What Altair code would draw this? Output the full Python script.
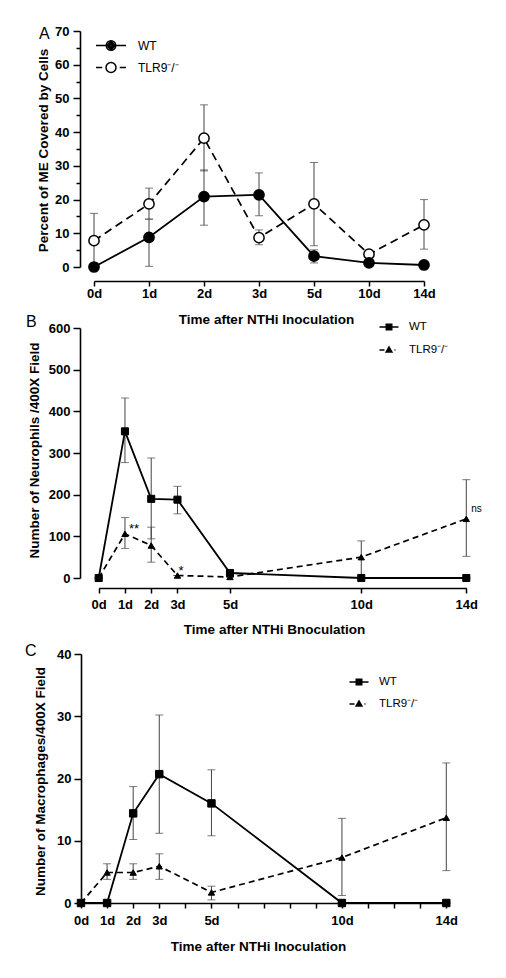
import altair as alt
import pandas as pd

FONT = "Liberation Sans"

# ---------------- data ----------------
day_labels = ["0d", "1d", "2d", "3d", "5d", "10d", "14d"]
day_nums = [0, 1, 2, 3, 5, 10, 14]
series_names = ["WT", "TLR9⁻/⁻"]

# Panel A: percent of ME covered by cells
a_wt_mean = [0, 8.8, 20.9, 21.4, 3.2, 1.2, 0.6]
a_wt_lo = [0, 0.2, 12.4, 15.2, 1.2, 1.2, 0.6]
a_wt_hi = [0, 14.2, 28.8, 27.9, 5.1, 1.2, 0.6]
a_ko_mean = [7.8, 18.7, 38.2, 8.7, 18.7, 3.8, 12.5]
a_ko_lo = [0, 14.2, 28.5, 6.6, 6.3, 3.8, 5.3]
a_ko_hi = [15.9, 23.4, 48.1, 11.0, 31.0, 3.8, 20.0]

# Panel B: neutrophils / 400X field
b_wt_mean = [0, 352, 190, 188, 12, 0, 0]
b_wt_lo = [0, 277, 94, 154, 12, 0, 0]
b_wt_hi = [0, 432, 288, 220, 12, 0, 0]
b_ko_mean = [0, 106, 78, 6, 2.5, 50, 142]
b_ko_lo = [0, 71, 38, 6, 2.5, 0, 52]
b_ko_hi = [0, 145, 122, 6, 2.5, 89, 236]

b_note_day = [1, 3, 14]
b_note_value = [106, 6, 142]
b_note_text = ["**", "*", "ns"]

# Panel C: macrophages / 400X field
c_wt_mean = [0, 0, 14.4, 20.7, 16.0, 0, 0]
c_wt_lo = [0, 0, 10.2, 11.2, 10.8, 0, 0]
c_wt_hi = [0, 0, 18.7, 30.2, 21.4, 0, 0]
c_ko_mean = [0, 4.9, 4.9, 5.9, 1.7, 7.3, 13.7]
c_ko_lo = [0, 3.8, 3.8, 3.8, 0.5, 1.2, 5.2]
c_ko_hi = [0, 6.3, 6.3, 7.9, 2.7, 13.6, 22.5]


def long_df(wm, wl, wh, km, kl, kh):
    rows = []
    for s, (m, lo, hi) in zip(series_names, [(wm, wl, wh), (km, kl, kh)]):
        for i in range(len(day_nums)):
            rows.append(dict(label=day_labels[i], day=day_nums[i], series=s,
                             mean=m[i], lo=lo[i], hi=hi[i]))
    return pd.DataFrame(rows)


dfA = long_df(a_wt_mean, a_wt_lo, a_wt_hi, a_ko_mean, a_ko_lo, a_ko_hi)
dfB = long_df(b_wt_mean, b_wt_lo, b_wt_hi, b_ko_mean, b_ko_lo, b_ko_hi)
dfC = long_df(c_wt_mean, c_wt_lo, c_wt_hi, c_ko_mean, c_ko_lo, c_ko_hi)
notesB = pd.DataFrame(dict(day=b_note_day, value=b_note_value, text=b_note_text))

WT = series_names[0]
KO = series_names[1]
ERR_COLOR = "#444444"


# ---------- legend glyphs (unit space, scaled by sqrt(size)/2 = 5 px) ----------
def circ(r):
    return f"M{-r},0A{r},{r} 0 1,0 {r},0A{r},{r} 0 1,0 {-r},0Z"


def sq(h):
    return f"M{-h},{-h}H{h}V{h}H{-h}Z"


def tri(k):
    c = 0.08
    pts = [(-0.58, 0.42), (0, -0.6), (0.58, 0.42)]
    p = [(k * x, c + k * (y - c)) for x, y in pts]
    return "M{:.3f},{:.3f}L{:.3f},{:.3f}L{:.3f},{:.3f}Z".format(*p[0], *p[1], *p[2])


PATH_A_WT = "M-3,0H-1M1,0H3" + "".join(circ(r) for r in (0.95, 0.65, 0.35, 0.08))
PATH_A_KO = "M-3,0H-1.75M1.75,0H3" + circ(1.0)
PATH_SQ_WT = "M-1.9,0H1.9" + "".join(sq(h) for h in (0.55, 0.4, 0.25, 0.1))
PATH_TRI_KO = "M-1.9,0H-0.9M1.1,0H1.3" + "".join(tri(k) for k in (1.0, 0.55, 0.15))


def legend(x, y, label_offset, row_padding, font_size):
    return alt.Legend(title=None, orient="none", legendX=x, legendY=y,
                      padding=0, labelOffset=label_offset, rowPadding=row_padding,
                      labelFont=FONT, labelFontSize=font_size, labelFontWeight="normal",
                      labelColor="black", symbolSize=100, symbolStrokeWidth=1.5,
                      symbolStrokeColor="black", symbolFillColor="transparent",
                      direction="vertical")


def build_panel(df, X, y_axis, y_scale, width, height, wt_point, ko_point,
                paths, leg, title, dash, extra=None):
    def Y(field):
        return alt.Y(f"{field}:Q", scale=y_scale, axis=y_axis)

    base = alt.Chart(df)
    wt = base.transform_filter(alt.datum.series == WT)
    ko = base.transform_filter(alt.datum.series == KO)
    order = alt.Order("day:Q")
    layers = []
    for part in (wt, ko):
        layers.append(part.mark_rule(color=ERR_COLOR, strokeWidth=1).encode(
            x=X, y=Y("lo"), y2="hi:Q"))
        for f in ("lo", "hi"):
            layers.append(part.mark_tick(orient="horizontal", size=8, thickness=1,
                                         color=ERR_COLOR).encode(x=X, y=Y(f)))
    layers.append(ko.mark_line(color="black", strokeWidth=1.7,
                               strokeDash=dash).encode(x=X, y=Y("mean"), order=order))
    layers.append(wt.mark_line(color="black", strokeWidth=1.8).encode(
        x=X, y=Y("mean"), order=order))
    layers.append(ko.mark_point(**ko_point).encode(x=X, y=Y("mean")))
    layers.append(wt.mark_point(**wt_point).encode(x=X, y=Y("mean")))
    if extra:
        layers.extend(extra)
    # legend-only layer (draws no marks, only feeds the legend)
    layers.append(base.transform_filter("false").mark_point(
        filled=False, color="black", strokeWidth=1.5, size=100, opacity=1).encode(
        x=X, y=Y("mean"),
        shape=alt.Shape("series:N", scale=alt.Scale(domain=series_names, range=paths),
                        legend=leg),
    ))
    return alt.layer(*layers).properties(width=width, height=height, title=title)


def letter(text, dx, dy):
    return alt.TitleParams(text=text, anchor="start", frame="group", orient="top",
                           baseline="alphabetic", offset=0, dx=dx, dy=dy,
                           font=FONT, fontSize=16, fontWeight="normal", color="black")


def y_title_pos(x, y):
    return dict(titleX=x, titleY=y, titleAngle=-90, titleAlign="center",
                titleBaseline="middle")


def x_title_pos(x, y):
    return dict(titleX=x, titleY=y, titleAlign="center", titleBaseline="middle")


# ---------- Panel A ----------
XA = alt.X("label:O", sort=day_labels, scale=alt.Scale(type="point", padding=0),
           axis=alt.Axis(title="Time after NTHi Inoculation", labelAngle=0, offset=14,
                         tickSize=5, labelPadding=1, **x_title_pos(172, 38)))
axisA_y = alt.Axis(title="Percent of ME Covered by Cells",
                   values=list(range(0, 71, 5)),
                   labelExpr="datum.value % 10 === 0 ? datum.label : ''",
                   tickSize={"condition": {"test": "datum.value % 10 === 0", "value": 7},
                             "value": 4},
                   offset=14, labelPadding=4, **y_title_pos(-37, 119))
chartA = build_panel(
    dfA, XA, axisA_y, alt.Scale(domain=[0, 70], nice=False), 330, 236,
    dict(shape="circle", filled=True, fill="black", stroke="black", strokeWidth=1.5,
         size=105, opacity=1),
    dict(shape="circle", filled=True, fill="white", stroke="black", strokeWidth=1.5,
         size=105, opacity=1),
    [PATH_A_WT, PATH_A_KO], legend(11, 8.5, 21, 6, 12), letter("A", -55, 30), [8, 5])

# ---------- Panel B ----------
XB = alt.X("day:Q", scale=alt.Scale(domain=[0, 14], range=[4.7, 372.3], nice=False,
                                    zero=False),
           axis=alt.Axis(title="Time after NTHi Bnoculation", values=day_nums,
                         labelExpr="datum.value + 'd'", offset=10, tickSize=5,
                         labelPadding=5, labelFlush=False, labelOverlap=False,
                         **x_title_pos(180, 41)))
axisB_y = alt.Axis(title="Number of Neurophils /400X Field", values=list(range(0, 601, 100)),
                   tickSize=7, offset=14, labelPadding=3, **y_title_pos(-46, 122))
noteB = [
    alt.Chart(notesB).transform_filter(alt.datum.text == "**").mark_text(
        align="left", baseline="alphabetic", dx=4, dy=-1, font=FONT, fontSize=13,
        color="black").encode(x=XB, y="value:Q", text="text:N"),
    alt.Chart(notesB).transform_filter(alt.datum.text == "*").mark_text(
        align="left", baseline="alphabetic", dx=1, dy=-1, font=FONT, fontSize=13,
        color="black").encode(x=XB, y="value:Q", text="text:N"),
    alt.Chart(notesB).transform_filter(alt.datum.text == "ns").mark_text(
        align="left", baseline="alphabetic", dx=5, dy=-7, font=FONT, fontSize=10,
        color="black").encode(x=XB, y="value:Q", text="text:N"),
]
chartB = build_panel(
    dfB, XB, axisB_y, alt.Scale(domain=[0, 600], nice=False), 372, 250,
    dict(shape="square", filled=True, fill="black", stroke="black", strokeWidth=1,
         size=50, opacity=1),
    dict(shape="triangle-up", filled=True, fill="black", stroke="black", strokeWidth=1,
         size=40, opacity=1),
    [PATH_SQ_WT, PATH_TRI_KO], legend(289, -7, 14, 11, 11.5), letter("B", -68, 22),
    [6, 4], noteB)

# ---------- Panel C ----------
XC = alt.X("day:Q", scale=alt.Scale(domain=[0, 14], range=[-13, 352.3], nice=False,
                                    zero=False),
           axis=alt.Axis(title="Time after NTHi Inoculation", values=list(range(0, 15)),
                         labelExpr="indexof([0,1,2,3,5,10,14], datum.value) >= 0 ? datum.value + 'd' : ''",
                         offset=0, tickSize=5, labelPadding=6,
                         labelFlush=False, labelOverlap=False, **x_title_pos(164, 43)))
axisC_y = alt.Axis(title="Number of Macrophages/400X Field", values=list(range(0, 41, 10)),
                   tickSize=7, offset=13, labelPadding=3, **y_title_pos(-41, 127))
chartC = build_panel(
    dfC, XC, axisC_y, alt.Scale(domain=[0, 40], nice=False), 352, 249,
    dict(shape="square", filled=True, fill="black", stroke="black", strokeWidth=1,
         size=55, opacity=1),
    dict(shape="triangle-up", filled=True, fill="black", stroke="black", strokeWidth=1,
         size=40, opacity=1),
    [PATH_SQ_WT, PATH_TRI_KO], legend(259, 22, 14, 10, 11.5), letter("C", -69, 24),
    [6, 4])

top_pair = alt.concat(chartA, chartB, columns=1, align="none", spacing=-12).resolve_scale(
    shape="independent").resolve_legend(shape="independent")
chart = alt.concat(top_pair, chartC, columns=1, align="none", spacing=7).resolve_scale(
    shape="independent").resolve_legend(shape="independent").properties(
    padding={"left": 17, "top": 17, "right": 5, "bottom": 5}
).configure_view(stroke=None).configure_axis(
    grid=False, domainColor="black", domainWidth=1.6, tickColor="black", tickWidth=1.5,
    labelFont=FONT, labelFontSize=13, labelFontWeight="bold", labelColor="black",
    titleFont=FONT, titleFontSize=13.5, titleFontWeight="bold", titleColor="black"
)

chart.save("out.html", embed_options={"renderer": "svg", "actions": False})
